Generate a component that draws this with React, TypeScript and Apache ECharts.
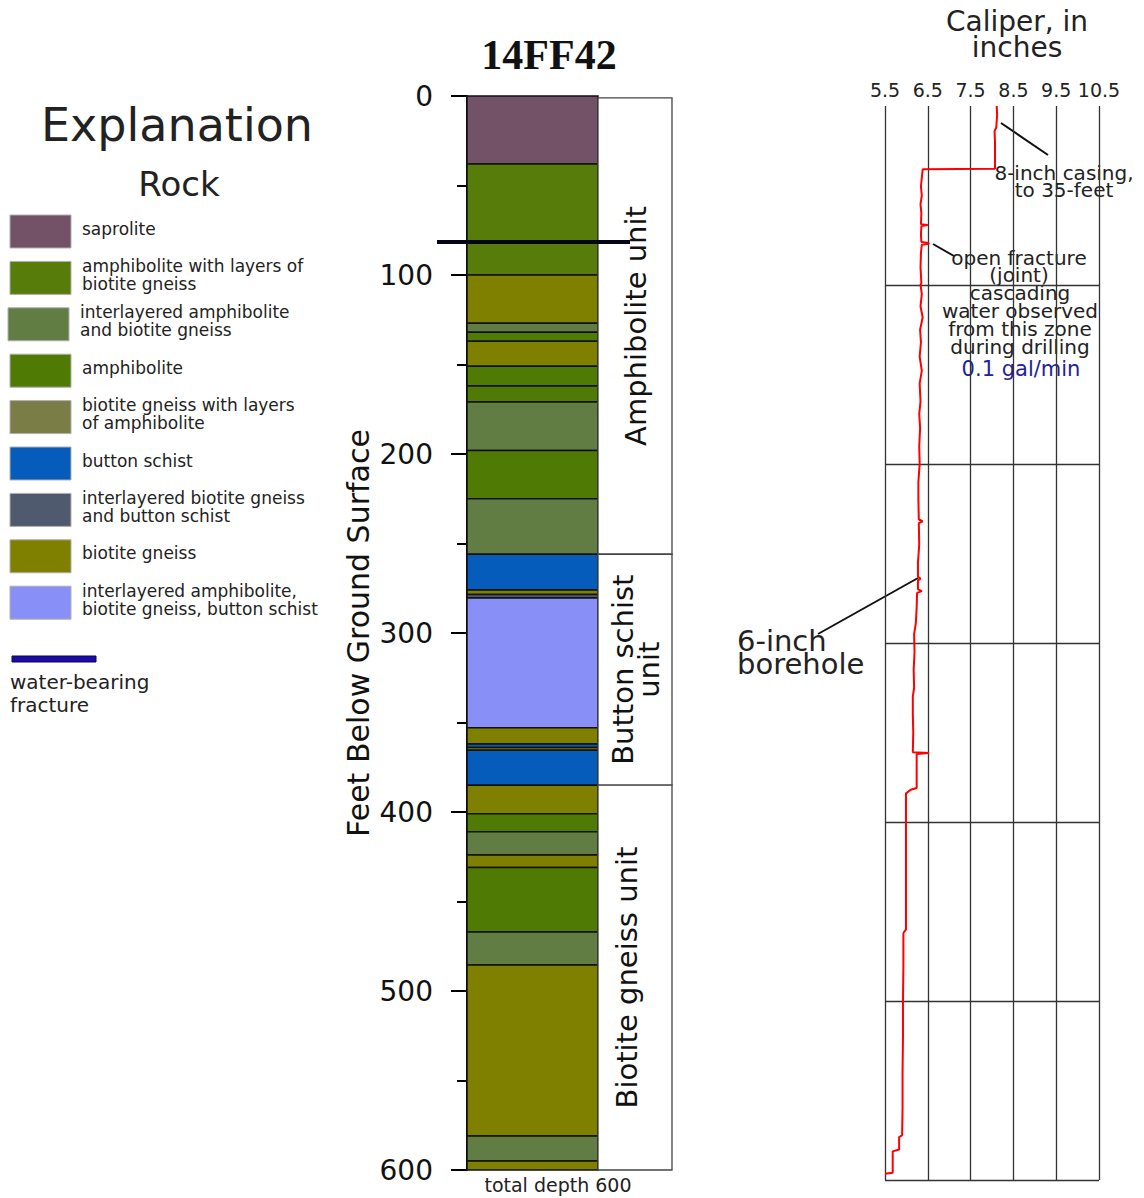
import React, { useEffect, useRef } from 'react';
import * as echarts from 'echarts';

// ---------- DATA ----------
const ROCK_NAMES = [
  'saprolite',
  'amphibolite with layers of\nbiotite gneiss',
  'interlayered amphibolite\nand biotite gneiss',
  'amphibolite',
  'biotite gneiss with layers\nof amphibolite',
  'button schist',
  'interlayered biotite gneiss\nand button schist',
  'biotite gneiss',
  'interlayered amphibolite,\nbiotite gneiss, button schist',
];
const ROCK_COLORS = ['#735268', '#587c0a', '#627d44', '#4f7a04', '#7a7d45', '#065cba', '#505a6e', '#7f7f00', '#8890f8'];

const LAYER_TOP = [0, 38, 100, 127, 132, 137, 151, 162, 171, 198, 225, 256, 276, 278.5, 280.5, 353, 362, 364, 365.5, 385, 401, 411, 424, 431, 467, 485.5, 581, 595];
const LAYER_BOTTOM = [38, 100, 127, 132, 137, 151, 162, 171, 198, 225, 256, 276, 278.5, 280.5, 353, 362, 364, 365.5, 385, 401, 411, 424, 431, 467, 485.5, 581, 595, 600];
const LAYER_ROCK = [0, 1, 7, 2, 3, 7, 3, 3, 2, 3, 2, 5, 7, 6, 8, 7, 5, 7, 5, 7, 3, 2, 7, 3, 2, 7, 2, 7];

const UNIT_NAMES = ['Amphibolite unit', 'Button schist\nunit', 'Biotite gneiss unit'];
const UNIT_TOP = [1, 256, 385];
const UNIT_BOTTOM = [256, 385, 600];

const FRACTURE_DEPTH = 81.6;

const DEPTH_TICKS = [0, 100, 200, 300, 400, 500, 600];
const CALIPER_TICKS = [5.5, 6.5, 7.5, 8.5, 9.5, 10.5];

const CALIPER_DEPTH = [0, 5, 12, 14, 20, 35, 35.4, 40, 45, 50, 55, 60, 66, 66.5, 67, 72, 76, 76.5, 77, 77.5, 82, 90, 99, 100, 105, 112, 118, 125, 132, 140, 148, 155, 165, 172, 180, 190, 200, 210, 220, 231, 232, 233, 245, 255, 263, 264, 265, 270, 271, 272, 280, 289, 295, 305, 315, 325, 330, 340, 350, 361, 361.5, 362, 370, 381, 382, 384, 400, 420, 440, 460, 462, 480, 500, 520, 540, 560, 575, 576, 583, 584, 596, 596.5];
const CALIPER_INCHES = [8.11, 8.12, 8.1, 8.06, 8.07, 8.07, 6.38, 6.36, 6.34, 6.36, 6.33, 6.35, 6.34, 6.5, 6.35, 6.34, 6.35, 6.52, 6.52, 6.36, 6.34, 6.33, 6.35, 6.33, 6.36, 6.33, 6.38, 6.32, 6.34, 6.31, 6.36, 6.31, 6.33, 6.3, 6.32, 6.3, 6.31, 6.28, 6.28, 6.29, 6.38, 6.29, 6.3, 6.27, 6.27, 6.33, 6.27, 6.27, 6.36, 6.25, 6.24, 6.22, 6.18, 6.19, 6.17, 6.18, 6.15, 6.15, 6.16, 6.15, 6.53, 6.24, 6.24, 6.24, 6.1, 5.99, 5.99, 5.99, 5.99, 5.99, 5.93, 5.93, 5.92, 5.92, 5.91, 5.91, 5.9, 5.83, 5.83, 5.68, 5.68, 5.5];

// ---------- STYLE ----------
const FONT = 'DejaVu Sans';
const TXT = '#222';
const UNIT_TEXT_SHIFT = [1, 1, -8];

export default function App() {
  const ref = useRef<HTMLDivElement>(null);
  useEffect(() => {
    if (!ref.current) return;
    const chart = echarts.init(ref.current, null, { renderer: 'svg' });

    const layerData = LAYER_TOP.map((t, i) => [t, LAYER_BOTTOM[i], LAYER_ROCK[i]]);
    const unitData = UNIT_TOP.map((t, i) => [t, UNIT_BOTTOM[i], i]);
    const caliperData = CALIPER_DEPTH.map((d, i) => [CALIPER_INCHES[i], d]);

    const depthMin = DEPTH_TICKS[0];
    const depthMax = DEPTH_TICKS[DEPTH_TICKS.length - 1];
    const depthInt = DEPTH_TICKS[1] - DEPTH_TICKS[0];

    const hiddenX = (gi: number) => ({ type: 'value', gridIndex: gi, min: 0, max: 1, show: false });
    const hiddenY = (gi: number) => ({ type: 'value', gridIndex: gi, min: depthMin, max: depthMax, inverse: true, show: false });

    // legend graphics
    const legendEls: any[] = [];
    ROCK_NAMES.forEach((name, i) => {
      const top = 215 + i * 46.4;
      const sx = i === 2 ? 8 : 10;
      legendEls.push({
        type: 'rect',
        shape: { x: sx, y: top, width: 61, height: 33 },
        style: { fill: ROCK_COLORS[i], stroke: '#b0b0b0', lineWidth: 1 },
      });
      legendEls.push({
        type: 'text',
        x: i === 2 ? 80 : 82,
        y: top + 13.5,
        style: {
          text: name, fontSize: 17, fontFamily: FONT, fill: TXT, lineHeight: 18,
          align: 'left', verticalAlign: 'middle', textAlign: 'left', textVerticalAlign: 'middle',
        },
      });
    });

    const txt = (text: string, x: number, y: number, size: number, extra: any = {}) => ({
      type: 'text', x, y,
      style: {
        text, fontSize: size, fontFamily: FONT, fill: TXT,
        align: 'center', verticalAlign: 'middle', textAlign: 'center', textVerticalAlign: 'middle',
        ...extra,
      },
    });

    const option: any = {
      animation: false,
      backgroundColor: '#fff',
      title: {
        text: '14FF42', left: 544, top: 29, textAlign: 'center',
        textStyle: { fontFamily: 'Liberation Serif', fontWeight: 'bold', fontSize: 42, color: '#111' },
      },
      grid: [
        { left: 467, top: 96, width: 131, height: 1074 },
        { left: 598, top: 96, width: 74, height: 1074 },
        { left: 437, top: 96, width: 193, height: 1074 },
        { left: 885, top: 106, width: 214, height: 1074 },
      ],
      xAxis: [
        hiddenX(0), hiddenX(1), hiddenX(2),
        {
          type: 'value', gridIndex: 3, position: 'top',
          min: CALIPER_TICKS[0], max: CALIPER_TICKS[CALIPER_TICKS.length - 1],
          interval: CALIPER_TICKS[1] - CALIPER_TICKS[0],
          axisLine: { show: false }, axisTick: { show: false },
          axisLabel: { fontSize: 19, fontFamily: FONT, color: TXT, margin: 7, formatter: (v: number) => v.toFixed(1) },
          splitLine: { show: true, lineStyle: { color: '#333', width: 1.3 } },
        },
      ],
      yAxis: [
        {
          type: 'value', gridIndex: 0, min: depthMin, max: depthMax, interval: depthInt, inverse: true,
          offset: 14,
          axisLine: { show: true, lineStyle: { color: '#000', width: 2 } },
          axisTick: { show: true, length: 16, lineStyle: { color: '#000', width: 2 } },
          minorTick: { show: true, splitNumber: 2, length: 10, lineStyle: { color: '#000', width: 2 } },
          axisLabel: { fontSize: 28, fontFamily: FONT, color: '#111', margin: 20 },
          splitLine: { show: false },
          name: 'Feet Below Ground Surface', nameLocation: 'middle', nameGap: 80,
          nameTextStyle: { fontSize: 30, fontFamily: FONT, color: '#111' },
        },
        hiddenY(1), hiddenY(2),
        {
          type: 'value', gridIndex: 3, min: depthMin, max: depthMax, interval: depthInt, inverse: true,
          axisLine: { show: false }, axisTick: { show: false }, axisLabel: { show: false },
          splitLine: { show: true, showMinLine: false, lineStyle: { color: '#333', width: 1.3 } },
        },
      ],
      series: [
        {
          type: 'custom', name: 'lithology', xAxisIndex: 0, yAxisIndex: 0,
          data: layerData,
          encode: { y: [0, 1] },
          renderItem: (params: any, api: any) => {
            const t = api.value(0), b = api.value(1), r = api.value(2);
            const p1 = api.coord([0, t]);
            const p2 = api.coord([1, b]);
            return {
              type: 'rect',
              shape: { x: p1[0], y: p1[1], width: p2[0] - p1[0], height: p2[1] - p1[1] },
              style: { fill: ROCK_COLORS[r], stroke: '#111', lineWidth: 1.5 },
            };
          },
        },
        {
          type: 'custom', name: 'units', xAxisIndex: 1, yAxisIndex: 1,
          data: unitData,
          encode: { y: [0, 1] },
          renderItem: (params: any, api: any) => {
            const t = api.value(0), b = api.value(1), k = api.value(2);
            const p1 = api.coord([0, t]);
            const p2 = api.coord([1, b]);
            return {
              type: 'group',
              children: [
                {
                  type: 'rect',
                  shape: { x: p1[0], y: p1[1], width: p2[0] - p1[0], height: p2[1] - p1[1] },
                  style: { fill: '#fff', stroke: '#444', lineWidth: 1.3 },
                },
                {
                  type: 'text',
                  x: (p1[0] + p2[0]) / 2 + UNIT_TEXT_SHIFT[k],
                  y: (p1[1] + p2[1]) / 2,
                  rotation: Math.PI / 2,
                  style: {
                    text: UNIT_NAMES[k], fontSize: 29, fontFamily: FONT, fill: '#111', lineHeight: 26,
                    align: 'center', verticalAlign: 'middle', textAlign: 'center', textVerticalAlign: 'middle',
                  },
                },
              ],
            };
          },
        },
        {
          type: 'line', name: 'water-bearing fracture', xAxisIndex: 2, yAxisIndex: 2,
          data: [[0, FRACTURE_DEPTH], [1, FRACTURE_DEPTH]],
          showSymbol: false, z: 10,
          lineStyle: { color: '#05051a', width: 4 },
        },
        {
          type: 'line', name: 'caliper', xAxisIndex: 3, yAxisIndex: 3,
          data: caliperData,
          showSymbol: false,
          lineStyle: { color: '#ff0000', width: 2 },
        },
      ],
      graphic: [
        txt('Explanation', 177, 125, 46),
        txt('Rock', 179, 184, 34),
        ...legendEls,
        {
          type: 'rect', shape: { x: 12, y: 656, width: 84, height: 6 },
          style: { fill: '#1a0aa8', stroke: '#0a0550', lineWidth: 1 },
        },
        txt('water-bearing\nfracture', 10, 693, 20, { align: 'left', textAlign: 'left', lineHeight: 23 }),
        txt('total depth 600', 558, 1185, 19),
        txt('Caliper, in\ninches', 1017, 34, 28, { lineHeight: 26 }),
        txt('8-inch casing,\nto 35-feet', 1064, 181, 20, { lineHeight: 17 }),
        txt('open fracture\n(joint)', 1019, 266, 20, { lineHeight: 17 }),
        txt('cascading\nwater observed\nfrom this zone\nduring drilling', 1020, 320, 20, { lineHeight: 18 }),
        txt('0.1 gal/min', 1021, 369, 21, { fill: '#22229a' }),
        txt('6-inch\nborehole', 737, 652, 29, { align: 'left', textAlign: 'left', lineHeight: 23 }),
        { type: 'line', shape: { x1: 1001, y1: 123, x2: 1048, y2: 155 }, style: { stroke: '#111', lineWidth: 2 } },
        { type: 'line', shape: { x1: 933, y1: 244, x2: 954, y2: 256 }, style: { stroke: '#111', lineWidth: 2 } },
        { type: 'line', shape: { x1: 818, y1: 634, x2: 918, y2: 578 }, style: { stroke: '#111', lineWidth: 2 } },
      ],
    };
    chart.setOption(option);
    return () => chart.dispose();
  }, []);
  return (
    <div
      ref={ref}
      style={{ position: 'absolute', left: 0, top: 0, width: 1144, height: 1198, background: '#fff' }}
    />
  );
}
